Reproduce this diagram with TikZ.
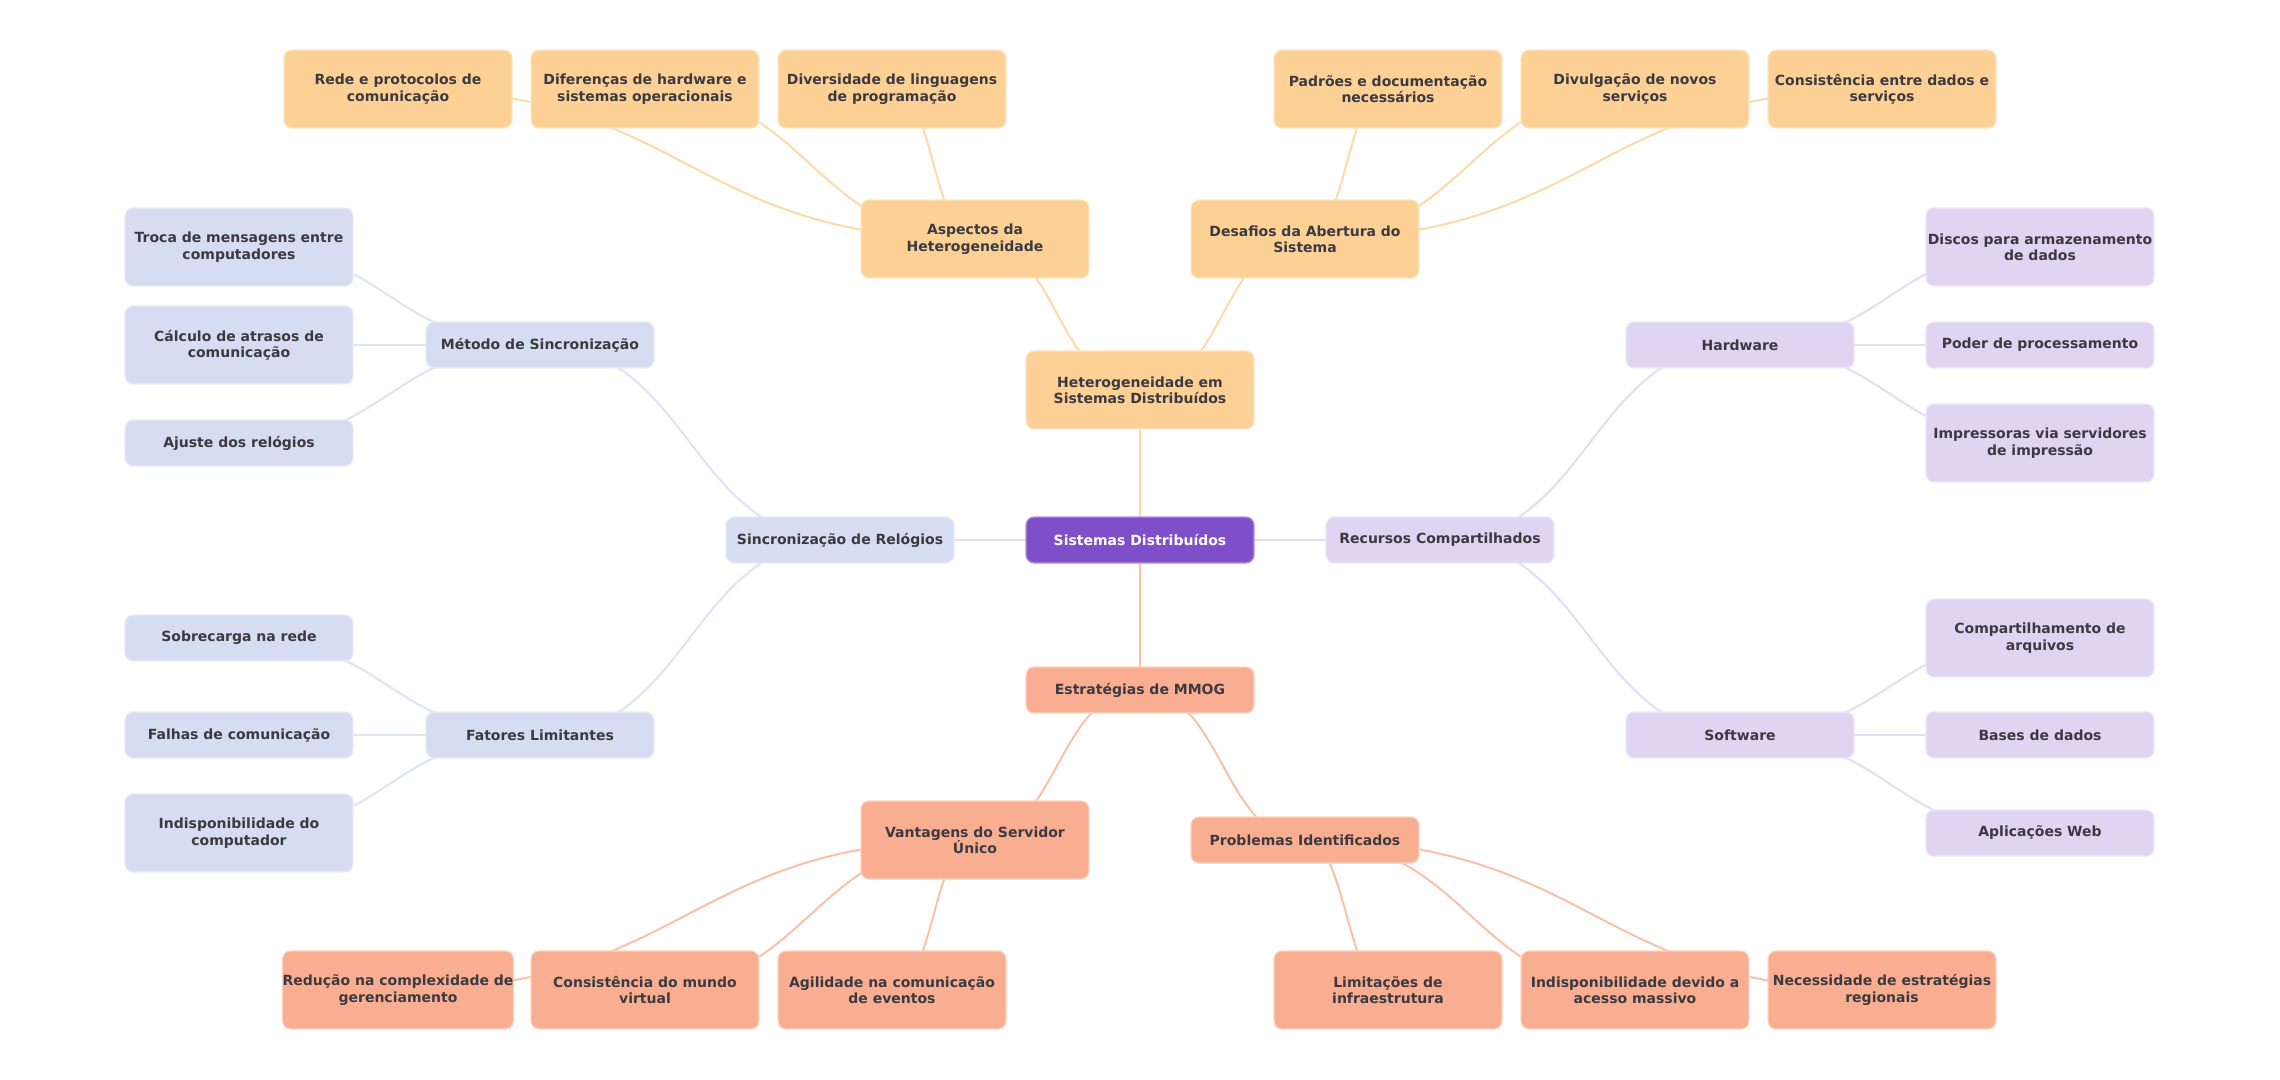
\documentclass[tikz,border=0pt]{standalone}
\usepackage{fontspec}
\setmainfont{DejaVu Sans}
\usetikzlibrary{calc,backgrounds}
\definecolor{ofill}{HTML}{FDD196}
\definecolor{sfill}{HTML}{F9AE91}
\definecolor{bfill}{HTML}{D6DDF2}
\definecolor{lfill}{HTML}{DFD4F1}
\definecolor{cfill}{HTML}{7F4FC9}
\definecolor{oedge}{HTML}{FDD9A8}
\definecolor{sedge}{HTML}{FAC0A8}
\definecolor{bedge}{HTML}{DCE3F5}
\definecolor{ledge}{HTML}{E4DBF5}
\definecolor{txt}{HTML}{3C3A40}
\begin{document}
\begin{tikzpicture}[x=0.5pt,y=-0.5pt,
  box/.style={rectangle, rounded corners=4pt, minimum width=114pt, minimum height=23pt,
    inner sep=0pt, align=center, font=\fontsize{7}{8.2}\selectfont\bfseries, text=txt, line width=0.6pt},
  two/.style={minimum height=39pt},
  ob/.style={box, fill=ofill, draw=ofill!55!white},
  sb/.style={box, fill=sfill, draw=sfill!55!white},
  bb/.style={box, fill=bfill, draw=bfill!55!white},
  lb/.style={box, fill=lfill, draw=lfill!55!white},
  cb/.style={box, fill=cfill, draw=cfill!60!white, text=white},
  link/.style={line width=1pt, to path={let \p1=(\tikztostart), \p2=(\tikztotarget), \n1={(\x1+\x2)/2} in .. controls (\n1,\y1) and (\n1,\y2) .. (\tikztotarget)}}
]
\useasboundingbox (0,0) rectangle (2280,1080);

% centre
\node[cb] (c) at (1140,540) {Sistemas Distribuídos};

% orange branch
\node[ob,two] (het) at (1140,390) {Heterogeneidade em\\Sistemas Distribuídos};
\node[ob,two] (asp) at (975,239) {Aspectos da\\Heterogeneidade};
\node[ob,two] (des) at (1305,239) {Desafios da Abertura do\\Sistema};
\node[ob,two] (rede) at (398,89) {Rede e protocolos de\\comunicação};
\node[ob,two] (dif) at (645,89) {Diferenças de hardware e\\sistemas operacionais};
\node[ob,two] (div) at (892,89) {Diversidade de linguagens\\de programação};
\node[ob,two] (pad) at (1388,89) {Padrões e documentação\\necessários};
\node[ob,two] (divu) at (1635,89) {Divulgação de novos\\serviços};
\node[ob,two] (cons) at (1882,89) {Consistência entre dados e\\serviços};

% salmon branch
\node[sb] (mmog) at (1140,690) {Estratégias de MMOG};
\node[sb,two] (vant) at (975,840) {Vantagens do Servidor\\Único};
\node[sb] (prob) at (1305,840) {Problemas Identificados};
\node[sb,two] (red) at (398,990) {Redução na complexidade de\\gerenciamento};
\node[sb,two] (consm) at (645,990) {Consistência do mundo\\virtual};
\node[sb,two] (agil) at (892,990) {Agilidade na comunicação\\de eventos};
\node[sb,two] (lim) at (1388,990) {Limitações de\\infraestrutura};
\node[sb,two] (indm) at (1635,990) {Indisponibilidade devido a\\acesso massivo};
\node[sb,two] (nec) at (1882,990) {Necessidade de estratégias\\regionais};

% blue branch
\node[bb] (sinc) at (840,540) {Sincronização de Relógios};
\node[bb] (met) at (540,345) {Método de Sincronização};
\node[bb] (fat) at (540,735) {Fatores Limitantes};
\node[bb,two] (troca) at (239,247) {Troca de mensagens entre\\computadores};
\node[bb,two] (calc) at (239,345) {Cálculo de atrasos de\\comunicação};
\node[bb] (ajuste) at (239,443) {Ajuste dos relógios};
\node[bb] (sobre) at (239,638) {Sobrecarga na rede};
\node[bb] (falhas) at (239,735) {Falhas de comunicação};
\node[bb,two] (indisp) at (239,833) {Indisponibilidade do\\computador};

% lavender branch
\node[lb] (rec) at (1440,540) {Recursos Compartilhados};
\node[lb] (hw) at (1740,345) {Hardware};
\node[lb] (sw) at (1740,735) {Software};
\node[lb,two] (discos) at (2040,247) {Discos para armazenamento\\de dados};
\node[lb] (poder) at (2040,345) {Poder de processamento};
\node[lb,two] (impr) at (2040,443) {Impressoras via servidores\\de impressão};
\node[lb,two] (comp) at (2040,638) {Compartilhamento de\\arquivos};
\node[lb] (bases) at (2040,735) {Bases de dados};
\node[lb] (apl) at (2040,833) {Aplicações Web};

\begin{scope}[on background layer]
\draw[link, oedge] (c.center) to (het.center);
\draw[link, oedge] (het.center) to (asp.center);
\draw[link, oedge] (het.center) to (des.center);
\foreach \t in {rede,dif,div} \draw[link, oedge] (asp.center) to (\t.center);
\foreach \t in {pad,divu,cons} \draw[link, oedge] (des.center) to (\t.center);

\draw[link, sedge] (c.center) to (mmog.center);
\draw[link, sedge] (mmog.center) to (vant.center);
\draw[link, sedge] (mmog.center) to (prob.center);
\foreach \t in {red,consm,agil} \draw[link, sedge] (vant.center) to (\t.center);
\foreach \t in {lim,indm,nec} \draw[link, sedge] (prob.center) to (\t.center);

\draw[link, bedge] (c.center) to (sinc.center);
\draw[link, bedge] (sinc.center) to (met.center);
\draw[link, bedge] (sinc.center) to (fat.center);
\foreach \t in {troca,calc,ajuste} \draw[link, bedge] (met.center) to (\t.center);
\foreach \t in {sobre,falhas,indisp} \draw[link, bedge] (fat.center) to (\t.center);

\draw[link, ledge] (c.center) to (rec.center);
\draw[link, ledge] (rec.center) to (hw.center);
\draw[link, ledge] (rec.center) to (sw.center);
\foreach \t in {discos,poder,impr} \draw[link, ledge] (hw.center) to (\t.center);
\foreach \t in {comp,bases,apl} \draw[link, ledge] (sw.center) to (\t.center);
\end{scope}
\end{tikzpicture}
\end{document}
